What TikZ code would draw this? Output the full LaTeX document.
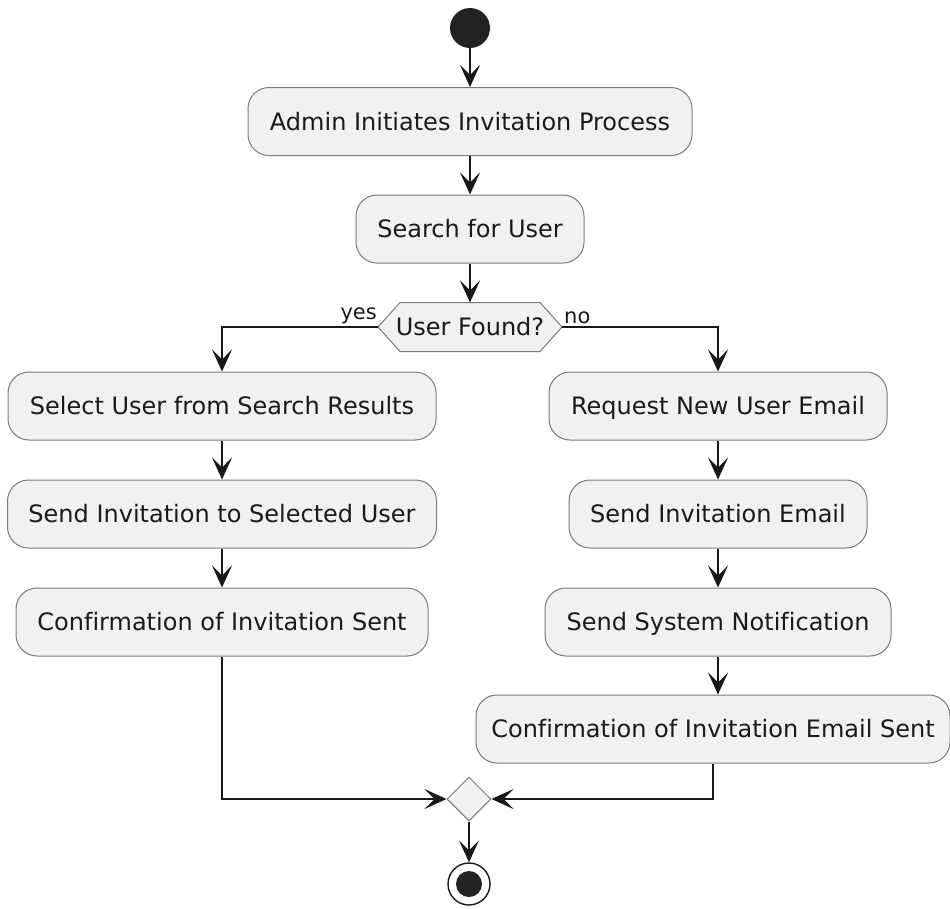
\documentclass[tikz,border=0pt]{standalone}
\usepackage{fontspec}
\setmainfont[Ligatures=NoCommon]{DejaVu Sans}
\usetikzlibrary{arrows.meta,shapes.geometric}
\definecolor{boxfill}{HTML}{F1F1F1}
\definecolor{boxline}{HTML}{7A7A7A}
\definecolor{linecol}{HTML}{181818}
\definecolor{dotcol}{HTML}{222222}
\definecolor{txtcol}{HTML}{1A1A1A}
\tikzset{
  act/.style={draw=boxline, line width=1pt, fill=boxfill, rounded corners=21pt,
    minimum height=68pt, inner sep=0pt, text height=22pt, text depth=5pt,
    font=\fontsize{24}{28}\selectfont, text=txtcol},
  flow/.style={draw=linecol, line width=1.6pt,
    -{Stealth[length=22pt,width=20pt,inset=10pt]}},
  lbl/.style={font=\fontsize{21}{24}\selectfont, inner sep=0pt, text=txtcol}
}
\begin{document}
\begin{tikzpicture}[x=1pt,y=1pt]
\useasboundingbox (0,0) rectangle (950,-908);

% start point
\node[circle, fill=dotcol, minimum size=40pt, inner sep=0pt] (start) at (470,-28) {};

% main column
\node[act, minimum width=444pt] (admin) at (470,-121.5) {Admin Initiates Invitation Process};
\node[act, minimum width=228pt] (search) at (470,-229) {Search for User};

% decision hexagon
\coordinate (dc) at (470,-327);
\coordinate (dT) at (470,-302.5);
\coordinate (dL) at (378,-327);
\coordinate (dR) at (562,-327);
\draw[draw=boxline, line width=1pt, fill=boxfill]
  (dL) -- (400,-302.5) -- (540,-302.5) -- (dR) -- (540,-351.5) -- (400,-351.5) -- cycle;
\node[font=\fontsize{24}{28}\selectfont, inner sep=0pt, text height=22pt, text depth=5pt, text=txtcol] (dec) at (dc) {User Found?};

% yes branch
\node[act, minimum width=428pt] (sel) at (222,-406) {Select User from Search Results};
\node[act, minimum width=429pt] (sendsel) at (222,-514) {Send Invitation to Selected User};
\node[act, minimum width=412pt] (conf) at (222,-622) {Confirmation of Invitation Sent};

% no branch
\node[act, minimum width=338pt] (req) at (718,-406) {Request New User Email};
\node[act, minimum width=298pt] (sendmail) at (718,-514) {Send Invitation Email};
\node[act, minimum width=346pt] (notif) at (718,-622) {Send System Notification};
\node[act, minimum width=474pt] (confmail) at (713,-729) {Confirmation of Invitation Email Sent};

% merge and end
\node[diamond, draw=boxline, line width=1pt, fill=boxfill, minimum size=44pt, inner sep=0pt] (merge) at (469,-799) {};
\node[circle, draw=linecol, line width=1.4pt, fill=white, minimum size=42pt, inner sep=0pt] (stop) at (469,-884) {};
\node[circle, fill=dotcol, minimum size=26pt, inner sep=0pt] (stopdot) at (stop) {};

% connectors
\draw[flow] (start) -- (admin);
\draw[flow] (admin) -- (search);
\draw[flow] (search) -- (dT);
\draw[flow] (dL) -| (sel.north);
\draw[flow] (dR) -| (req.north);
\node[lbl, anchor=south east] (yes) at (377,-324) {yes};
\node[lbl, anchor=south west] (no) at (564,-324) {no};
\draw[flow] (sel) -- (sendsel);
\draw[flow] (sendsel) -- (conf);
\draw[flow] (req) -- (sendmail);
\draw[flow] (sendmail) -- (notif);
\draw[flow] (notif.south) -- (notif.south |- confmail.north);
\draw[flow] (conf.south) |- (merge.west);
\draw[flow] (confmail.south) |- (merge.east);
\draw[flow] (merge) -- (stop);
\end{tikzpicture}
\end{document}
